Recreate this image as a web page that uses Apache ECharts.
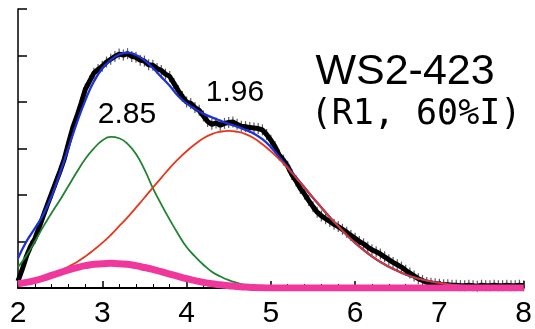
<!DOCTYPE html>
<html>
<head>
<meta charset="utf-8">
<script src="https://cdn.jsdelivr.net/npm/echarts@6/dist/echarts.min.js"></script>
<style>
  html, body { margin: 0; padding: 0; background: #fff; }
  #chart { width: 535px; height: 329px; }
</style>
</head>
<body>
<div id="chart"></div>
<script>
// measured data, x from 2.00 in steps of 0.05
const dataStart = 2
const dataStep = 0.05
const dataY = [
  0.15, 0.40, 0.68, 0.90, 1.06, 1.30, 1.55, 1.80, 2.04, 2.28,
  2.52, 2.78, 3.12, 3.45, 3.70, 3.98, 4.28, 4.45, 4.62, 4.70,
  4.77, 4.86, 4.92, 4.98, 5.03, 5.01, 5.04, 4.98, 4.96, 4.90,
  4.88, 4.80, 4.79, 4.72, 4.68, 4.60, 4.55, 4.40, 4.25, 4.12,
  4.00, 3.97, 3.88, 3.82, 3.70, 3.58, 3.52, 3.55, 3.50, 3.54,
  3.56, 3.57, 3.52, 3.48, 3.47, 3.45, 3.44, 3.43, 3.40, 3.30,
  3.18, 3.04, 2.86, 2.75, 2.62, 2.44, 2.30, 2.14, 2.02, 1.88,
  1.75, 1.63, 1.55, 1.49, 1.43, 1.37, 1.32, 1.26, 1.20, 1.13,
  1.07, 1.00, 0.95, 0.88, 0.82, 0.78, 0.73, 0.67, 0.61, 0.55,
  0.50, 0.45, 0.38, 0.32, 0.26, 0.20, 0.16, 0.12, 0.10, 0.09,
  0.08, 0.07, 0.07, 0.06, 0.06, 0.05, 0.05, 0.06, 0.05, 0.04,
  0.06, 0.05, 0.05, 0.06, 0.05, 0.05, 0.06, 0.05, 0.05, 0.06,
  0.05
]

// fitted curves, x from 2.0 in steps of 0.1
const fitStart = 2
const fitStep = 0.1
const fitTotal = [
  0.64, 1.00, 1.28, 1.58, 1.98, 2.48, 3.02, 3.56, 4.04, 4.44,
  4.72, 4.90, 5.02, 5.06, 5.01, 4.90, 4.73, 4.54, 4.35, 4.13,
  3.97, 3.85, 3.75, 3.67, 3.60, 3.53, 3.47, 3.40, 3.32, 3.20,
  3.03, 2.82, 2.60, 2.38, 2.16, 1.94, 1.73, 1.52, 1.33, 1.14,
  0.97, 0.82, 0.68, 0.56, 0.46, 0.37, 0.29, 0.23, 0.18, 0.14,
  0.11, 0.08, 0.06, 0.04, 0.03, 0.02, 0.015, 0.01, 0.005, 0, 0
]
const peakA = [
  0.45, 0.70, 1.00, 1.32, 1.62, 1.90, 2.20, 2.50, 2.78, 3.00,
  3.17, 3.25, 3.22, 3.10, 2.88, 2.55, 2.15, 1.80, 1.47, 1.16,
  0.88, 0.68, 0.50, 0.35, 0.25, 0.17, 0.11, 0.06, 0.03, 0.01, 0
]
const peakB = [
  0.11, 0.14, 0.18, 0.23, 0.29, 0.37, 0.46, 0.56, 0.68, 0.82,
  0.97, 1.14, 1.33, 1.52, 1.73, 1.94, 2.16, 2.37, 2.58, 2.77,
  2.94, 3.09, 3.22, 3.31, 3.36, 3.38, 3.36, 3.31, 3.22, 3.09,
  2.94, 2.77, 2.58, 2.37, 2.16, 1.94, 1.73, 1.52, 1.33, 1.14,
  0.97, 0.82, 0.68, 0.56, 0.46, 0.37, 0.29, 0.23, 0.18, 0.14,
  0.11, 0.08, 0.06, 0.04, 0.03, 0.02, 0.015, 0.01, 0.005, 0, 0
]
const peakC = [
  0.09, 0.12, 0.16, 0.21, 0.27, 0.33, 0.39, 0.44, 0.48, 0.51,
  0.52, 0.53, 0.52, 0.51, 0.48, 0.44, 0.40, 0.35, 0.30, 0.25,
  0.20, 0.16, 0.12, 0.09, 0.07, 0.05, 0.03, 0.02, 0.01, 0.005,
  0, 0, 0, 0, 0, 0, 0, 0, 0, 0,
  0, 0, 0, 0, 0, 0, 0, 0, 0, 0,
  0, 0, 0, 0, 0, 0, 0, 0, 0, 0, 0
]

const xTicks = [2, 3, 4, 5, 6, 7, 8]
const peakLabels = ["2.85", "1.96"]
const titleText = "WS2-423"
const subText = "(R1, 60%I)"

const pairs = (ys, start, step) => ys.map((y, i) => [+(start + i * step).toFixed(2), y])

const chart = echarts.init(document.getElementById("chart"), null, { renderer: "canvas" })

const option = {
  animation: false,
  backgroundColor: "#fff",
  grid: { left: 18, right: 11, top: 9, bottom: 38, containLabel: false },
  xAxis: {
    type: "value",
    min: xTicks[0],
    max: xTicks[xTicks.length - 1],
    interval: 1,
    axisLine: { show: true, onZero: false, lineStyle: { color: "#000", width: 2 } },
    axisTick: { show: true, inside: true, length: 7, lineStyle: { color: "#000", width: 1.5 } },
    minorTick: { show: true, splitNumber: 5, length: 4, lineStyle: { color: "#000", width: 1 } },
    axisLabel: {
      color: "#000",
      fontSize: 30,
      fontFamily: "Liberation Sans, Arial, sans-serif",
      margin: 11,
      formatter: (v) => String(v)
    },
    splitLine: { show: false }
  },
  yAxis: {
    type: "value",
    min: 0,
    max: 6,
    interval: 1,
    axisLine: { show: true, lineStyle: { color: "#000", width: 1.5 } },
    axisTick: { show: true, inside: true, length: 9, lineStyle: { color: "#000", width: 1.5 } },
    axisLabel: { show: false },
    splitLine: { show: false }
  },
  graphic: [
    {
      type: "text",
      style: {
        x: 405, y: 72, text: titleText, fill: "#000",
        font: "43px 'Liberation Sans', Arial, sans-serif",
        textAlign: "center", textVerticalAlign: "middle"
      }
    },
    {
      type: "text",
      style: {
        x: 416, y: 115, text: subText, fill: "#000",
        font: "35px 'DejaVu Sans Mono', monospace",
        textAlign: "center", textVerticalAlign: "middle"
      }
    },
    {
      type: "text",
      style: {
        x: 127, y: 115, text: peakLabels[0], fill: "#000",
        font: "30px 'Liberation Sans', Arial, sans-serif",
        textAlign: "center", textVerticalAlign: "middle"
      }
    },
    {
      type: "text",
      style: {
        x: 235, y: 93, text: peakLabels[1], fill: "#000",
        font: "30px 'Liberation Sans', Arial, sans-serif",
        textAlign: "center", textVerticalAlign: "middle"
      }
    }
  ],
  series: [
    {
      name: "data bars",
      type: "scatter",
      data: pairs(dataY, dataStart, dataStep),
      symbol: "rect",
      symbolSize: [1.2, 11],
      itemStyle: { color: "#333", opacity: 0.8 },
      silent: true,
      z: 1
    },
    {
      name: "data",
      type: "line",
      data: pairs(dataY, dataStart, dataStep),
      showSymbol: false,
      lineStyle: { color: "#000", width: 5 },
      silent: true,
      z: 2
    },
    {
      name: "fit",
      type: "line",
      data: pairs(fitTotal, fitStart, fitStep),
      smooth: true,
      showSymbol: false,
      lineStyle: { color: "#1b32d6", width: 2.3 },
      z: 3
    },
    {
      name: "peak 2.85",
      type: "line",
      data: pairs(peakA, fitStart, fitStep),
      smooth: true,
      showSymbol: false,
      lineStyle: { color: "#1f8432", width: 1.8 },
      z: 4
    },
    {
      name: "peak 1.96",
      type: "line",
      data: pairs(peakB, fitStart, fitStep),
      smooth: true,
      showSymbol: false,
      lineStyle: { color: "#e8361c", width: 1.8 },
      z: 5
    },
    {
      name: "background",
      type: "line",
      data: pairs(peakC, fitStart, fitStep),
      smooth: true,
      showSymbol: false,
      lineStyle: { color: "#f0379c", width: 7 },
      z: 6
    }
  ]
}

chart.setOption(option)
</script>
</body>
</html>
